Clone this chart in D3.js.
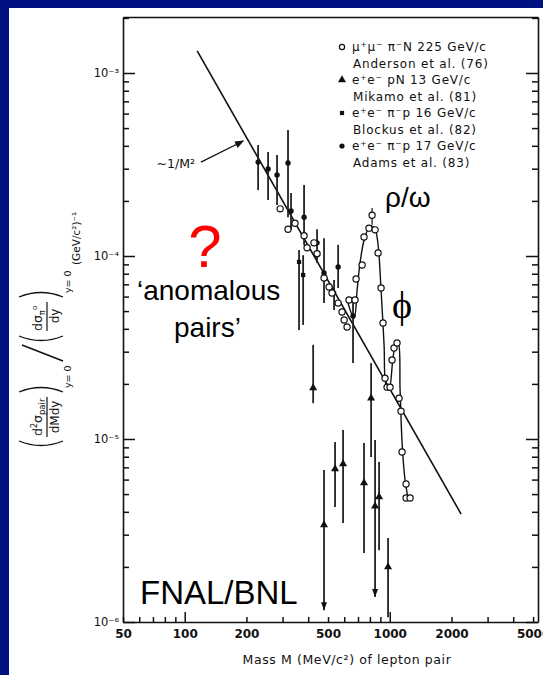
<!DOCTYPE html>
<html>
<head>
<meta charset="utf-8">
<script src="https://cdn.jsdelivr.net/npm/d3@7/dist/d3.min.js"></script>
<style>
  html, body { margin: 0; padding: 0; background: #001182; overflow: hidden; }
  svg { display: block; }
</style>
</head>
<body>
<svg id="chart" width="543" height="675"></svg>
<script>
// ---- ~1/M^2 reference line (end points) ----
const lineM = [115, 2228];
const lineV = [1.32e-3, 3.89e-6];

// ---- mu+mu- pi-N 225 GeV/c, Anderson et al. (76) : open circles ----
const andersonM = [292, 319, 345, 382, 395, 427, 442, 478, 506, 523, 560, 585, 599, 619, 633, 677, 685, 733, 749, 792, 820, 848, 877, 907, 927, 948, 970, 1003, 1026, 1049, 1085, 1110, 1135, 1148, 1201, 1201, 1256];
const andersonV = [1.81e-4, 1.40e-4, 1.51e-4, 1.29e-4, 1.11e-4, 1.18e-4, 1.03e-4, 7.58e-5, 6.77e-5, 6.28e-5, 5.53e-5, 4.94e-5, 4.47e-5, 4.09e-5, 5.75e-5, 5.75e-5, 7.49e-5, 8.93e-5, 1.27e-4, 1.42e-4, 1.67e-4, 1.39e-4, 1.04e-4, 6.69e-5, 4.30e-5, 2.15e-5, 1.92e-5, 1.92e-5, 2.70e-5, 3.14e-5, 3.35e-5, 1.67e-5, 1.42e-5, 8.49e-6, 5.68e-6, 4.76e-6, 4.76e-6];
// the one visible error bar (top of the rho/omega peak)
const andersonBarM = [820];
const andersonBarHi = [1.83e-4];
const andersonBarLo = [1.48e-4];

// ---- resonance curve through the rho/omega and phi region ----
const resFitM = [619, 670, 693, 716, 749, 784, 811, 848, 877, 907, 938, 959, 992, 1037, 1073, 1098, 1123, 1148, 1187, 1227];
const resFitV = [5.75e-5, 4.58e-5, 6.52e-5, 9.16e-5, 1.22e-4, 1.40e-4, 1.46e-4, 1.40e-4, 1.15e-4, 6.52e-5, 3.27e-5, 1.97e-5, 1.88e-5, 2.77e-5, 3.39e-5, 3.39e-5, 1.85e-5, 9.63e-6, 5.97e-6, 4.76e-6];

// ---- e+e- pN 13 GeV/c, Mikamo et al. (81) : filled triangles ----
const mikamoM  = [423, 478, 541, 592, 749, 811, 848, 887, 981];
const mikamoV  = [1.90e-5, 3.39e-6, 6.86e-6, 7.30e-6, 5.75e-6, 1.67e-5, 4.30e-6, 4.82e-6, 2.00e-6];
const mikamoHi = [3.27e-5, 6.77e-6, 9.63e-6, 1.12e-5, 9.50e-6, 2.60e-5, 9.87e-6, 7.48e-6, 2.88e-6];
const mikamoLo = [1.57e-5, 1.16e-6, 4.25e-6, 3.48e-6, 2.38e-6, 7.97e-6, 1.37e-6, 2.47e-6, 1.06e-6];
const mikamoLimit = [false, true, false, false, false, false, true, false, false];

// ---- e+e- pi-p 16 GeV/c, Blockus et al. (82) : filled squares ----
const blockusM  = [361, 378, 535];
const blockusV  = [9.28e-5, 7.87e-5, 6.28e-5];
const blockusHi = [1.08e-4, 1.01e-4, 7.39e-5];
const blockusLo = [3.94e-5, 4.20e-5, 5.07e-5];

// ---- e+e- pi-p 17 GeV/c, Adams et al. (83) : filled dots ----
const adamsM  = [228, 255, 282, 319, 330, 382, 442, 478, 560, 662];
const adamsV  = [3.26e-4, 2.99e-4, 2.77e-4, 3.22e-4, 1.76e-4, 1.63e-4, 1.18e-4, 8.08e-5, 8.71e-5, 4.70e-5];
const adamsHi = [4.04e-4, 3.70e-4, 3.56e-4, 4.88e-4, 2.21e-4, 2.44e-4, 1.40e-4, 1.25e-4, 1.15e-4, 5.53e-5];
const adamsLo = [2.29e-4, 2.02e-4, 1.90e-4, 1.63e-4, 1.39e-4, 1.15e-4, 9.16e-5, 5.53e-5, 6.69e-5, 2.60e-5];

// ---- axis ticks ----
const xTickValues = [50, 100, 200, 500, 1000, 2000, 5000];
const xTickLabels = ["50", "100", "200", "500", "1000", "2000", "5000"];
const xMajorTicks = [100, 1000];
const xMinorTicks = [50, 60, 70, 80, 90, 200, 300, 400, 500, 600, 700, 800, 900, 2000, 3000, 4000, 5000];
const yTickValues = [1e-6, 1e-5, 1e-4, 1e-3];
const yTickLabels = ["10\u207B\u2076", "10\u207B\u2075", "10\u207B\u2074", "10\u207B\u00B3"];

// ---- legend ----
const legendSymbols = ["circle", "triangle", "square", "dot"];
const legendLines = [
  ["\u03BC\u207A\u03BC\u207B  \u03C0\u207BN 225 GeV/c", "Anderson et al. (76)"],
  ["e\u207Ae\u207B  pN 13 GeV/c", "Mikamo et al. (81)"],
  ["e\u207Ae\u207B  \u03C0\u207Bp 16 GeV/c", "Blockus et al. (82)"],
  ["e\u207Ae\u207B  \u03C0\u207Bp 17 GeV/c", "Adams et al. (83)"]
];

// ================= drawing =================
const svg = d3.select("#chart");
const INK = "#111";
const SCAN_FONT = "'DejaVu Sans', sans-serif";
const SLIDE_FONT = "'Liberation Sans', Arial, sans-serif";

// slide background: blue frame, white page
svg.append("rect").attr("width", 543).attr("height", 675).attr("fill", "#001182");
svg.append("rect").attr("x", 9).attr("y", 8).attr("width", 534).attr("height", 667).attr("fill", "#fff");

const x = d3.scaleLog().domain([50, 5284]).range([123, 538]);
const y = d3.scaleLog().domain([1e-6, 2.023e-3]).range([622, 17]);
const [x0, x1] = x.range();
const [y0, y1] = y.range();

// minor ticks of the log y axis
const yMinor = [];
for (let e = -6; e <= -3; e++) {
  for (let k = 2; k <= 9; k++) {
    const v = k * Math.pow(10, e);
    if (v <= y.domain()[1]) yMinor.push(v);
  }
}

function styleAxis(g) {
  g.selectAll("path.domain").attr("stroke", INK).attr("stroke-width", 1.6);
  g.selectAll(".tick line").attr("stroke", INK).attr("stroke-width", 1.5);
}

// bottom axis: ticks pointing up into the plot
svg.append("g").attr("transform", `translate(0,${y0})`)
  .call(d3.axisTop(x).tickValues(xMinorTicks).tickSize(5).tickSizeOuter(0).tickFormat(""))
  .call(styleAxis);
svg.append("g").attr("transform", `translate(0,${y0})`)
  .call(d3.axisTop(x).tickValues(xMajorTicks).tickSize(10).tickSizeOuter(0).tickFormat(""))
  .call(g => g.select("path.domain").remove())
  .call(styleAxis);
// bottom tick labels
svg.append("g").attr("transform", `translate(0,${y0})`)
  .call(d3.axisBottom(x).tickValues(xTickValues).tickSize(0).tickPadding(7)
    .tickFormat((d, i) => xTickLabels[i]))
  .call(g => g.select("path.domain").remove())
  .call(g => g.selectAll("text").attr("font-family", SCAN_FONT).attr("font-size", 12)
    .attr("font-weight", "bold").attr("fill", INK));

// top edge
svg.append("g").attr("transform", `translate(0,${y1})`)
  .call(d3.axisBottom(x).tickValues([]).tickSizeOuter(0))
  .call(styleAxis);

// left axis: ticks pointing right
svg.append("g").attr("transform", `translate(${x0},0)`)
  .call(d3.axisRight(y).tickValues(yMinor).tickSize(6).tickSizeOuter(0).tickFormat(""))
  .call(styleAxis);
svg.append("g").attr("transform", `translate(${x0},0)`)
  .call(d3.axisRight(y).tickValues(yTickValues).tickSize(12).tickSizeOuter(0).tickFormat(""))
  .call(g => g.select("path.domain").remove())
  .call(styleAxis);
svg.append("g").attr("transform", `translate(${x0},0)`)
  .call(d3.axisLeft(y).tickValues(yTickValues).tickSize(0).tickPadding(4)
    .tickFormat((d, i) => yTickLabels[i]))
  .call(g => g.select("path.domain").remove())
  .call(g => g.selectAll("text").attr("font-family", SCAN_FONT).attr("font-size", 11.5)
    .attr("fill", INK));

// right axis: ticks pointing left
svg.append("g").attr("transform", `translate(${x1},0)`)
  .call(d3.axisLeft(y).tickValues(yMinor).tickSize(6).tickSizeOuter(0).tickFormat(""))
  .call(styleAxis);
svg.append("g").attr("transform", `translate(${x1},0)`)
  .call(d3.axisLeft(y).tickValues(yTickValues).tickSize(12).tickSizeOuter(0).tickFormat(""))
  .call(g => g.select("path.domain").remove())
  .call(styleAxis);

// x axis title
svg.append("text")
  .attr("x", 347).attr("y", 664).attr("text-anchor", "middle")
  .attr("font-family", SCAN_FONT).attr("font-size", 12.5).attr("fill", INK)
  .attr("letter-spacing", 0.6)
  .text("Mass M (MeV/c\u00B2) of lepton pair");

// ---- ~1/M^2 line ----
const plot = svg.append("g");
plot.append("path")
  .datum(d3.zip(lineM, lineV))
  .attr("d", d3.line().x(d => x(d[0])).y(d => y(d[1])))
  .attr("stroke", INK).attr("stroke-width", 1.6).attr("fill", "none");

// arrow pointing at the line, with its label
const arrowM = [120, 193];
const arrowV = [3.26e-4, 4.25e-4];
const defs = svg.append("defs");
defs.append("marker").attr("id", "head").attr("viewBox", "0 0 10 10")
  .attr("refX", 9).attr("refY", 5).attr("markerWidth", 7).attr("markerHeight", 7)
  .attr("orient", "auto")
  .append("path").attr("d", "M0,1 L10,5 L0,9 Z").attr("fill", INK);
plot.append("line")
  .attr("x1", x(arrowM[0])).attr("y1", y(arrowV[0]))
  .attr("x2", x(arrowM[1])).attr("y2", y(arrowV[1]))
  .attr("stroke", INK).attr("stroke-width", 1.3).attr("marker-end", "url(#head)");
plot.append("text")
  .attr("x", x(arrowM[0]) - 6).attr("y", y(arrowV[0]) + 6).attr("text-anchor", "end")
  .attr("font-family", SCAN_FONT).attr("font-size", 12.5).attr("fill", INK)
  .text("~1/M\u00B2");

// ---- resonance curve ----
plot.append("path")
  .datum(d3.zip(resFitM, resFitV))
  .attr("d", d3.line().x(d => x(d[0])).y(d => y(d[1])).curve(d3.curveCatmullRom.alpha(0.5)))
  .attr("stroke", INK).attr("stroke-width", 1.4).attr("fill", "none");

// ---- error bars ----
function errorBars(M, hi, lo, width) {
  plot.append("g").selectAll("line").data(M).join("line")
    .attr("x1", d => x(d)).attr("x2", d => x(d))
    .attr("y1", (d, i) => y(hi[i])).attr("y2", (d, i) => y(lo[i]))
    .attr("stroke", "#222").attr("stroke-width", width);
}
errorBars(adamsM, adamsHi, adamsLo, 1.8);
errorBars(blockusM, blockusHi, blockusLo, 1.8);
errorBars(mikamoM, mikamoHi, mikamoLo, 1.8);
errorBars(andersonBarM, andersonBarHi, andersonBarLo, 1.3);

// lower-limit arrows
plot.append("g").selectAll("path")
  .data(mikamoM.map((m, i) => ({ m, lo: mikamoLo[i], lim: mikamoLimit[i] })).filter(d => d.lim))
  .join("path")
  .attr("d", d => {
    const px = x(d.m), py = y(d.lo);
    return `M${px - 3},${py - 8} L${px + 3},${py - 8} L${px},${py} Z`;
  })
  .attr("fill", INK);

// ---- markers ----
const tri = d3.symbol(d3.symbolTriangle, 28)();
const sq = d3.symbol(d3.symbolSquare, 18)();

plot.append("g").selectAll("path").data(mikamoM).join("path")
  .attr("transform", (d, i) => `translate(${x(d)},${y(mikamoV[i])})`)
  .attr("d", tri).attr("fill", INK);

plot.append("g").selectAll("path").data(blockusM).join("path")
  .attr("transform", (d, i) => `translate(${x(d)},${y(blockusV[i])})`)
  .attr("d", sq).attr("fill", INK);

plot.append("g").selectAll("circle").data(adamsM).join("circle")
  .attr("cx", d => x(d)).attr("cy", (d, i) => y(adamsV[i]))
  .attr("r", 2.7).attr("fill", INK);

plot.append("g").selectAll("circle").data(andersonM).join("circle")
  .attr("cx", d => x(d)).attr("cy", (d, i) => y(andersonV[i]))
  .attr("r", 3.1).attr("fill", "#fff").attr("stroke", INK).attr("stroke-width", 1.2);

// ---- legend ----
const leg = svg.append("g").attr("font-family", SCAN_FONT).attr("font-size", 12).attr("fill", INK);
legendLines.forEach((lines, i) => {
  const cy = 47 + i * 33;
  const sym = legendSymbols[i];
  if (sym === "circle") {
    leg.append("circle").attr("cx", 342).attr("cy", cy).attr("r", 2.6)
      .attr("fill", "#fff").attr("stroke", INK).attr("stroke-width", 1.2);
  } else if (sym === "triangle") {
    leg.append("path").attr("transform", `translate(342,${cy})`).attr("d", tri).attr("fill", INK);
  } else if (sym === "square") {
    leg.append("path").attr("transform", `translate(342,${cy})`).attr("d", sq).attr("fill", INK);
  } else {
    leg.append("circle").attr("cx", 342).attr("cy", cy).attr("r", 2.6).attr("fill", INK);
  }
  leg.append("text").attr("x", 352).attr("y", cy + 4).attr("letter-spacing", 0.8).text(lines[0]);
  leg.append("text").attr("x", 353).attr("y", cy + 20.5).attr("letter-spacing", 0.8).text(lines[1]);
});

// ---- y axis title (rotated) ----
const yt = svg.append("g").attr("transform", "rotate(-90)")
  .attr("font-family", SCAN_FONT).attr("fill", INK);
function paren(xa, open) {
  const bulge = open ? -9 : 9;
  yt.append("path").attr("d", `M${xa},19 Q${xa + bulge},41 ${xa},63`)
    .attr("stroke", INK).attr("stroke-width", 1.3).attr("fill", "none");
}
// (d2 sigma_pair / dM dy)_{y=0}
paren(-441, true);
const n1 = yt.append("text").attr("x", -436).attr("y", 42).attr("font-size", 12.5);
n1.append("tspan").text("d");
n1.append("tspan").attr("dy", -5).attr("font-size", 8).text("2");
n1.append("tspan").attr("dy", 5).text("\u03C3");
n1.append("tspan").attr("dy", 3).attr("font-size", 8.5).text("pair");
yt.append("line").attr("x1", -437).attr("x2", -397).attr("y1", 47).attr("y2", 47)
  .attr("stroke", INK).attr("stroke-width", 1.2);
yt.append("text").attr("x", -417).attr("y", 59).attr("text-anchor", "middle").attr("font-size", 12)
  .text("dMdy");
paren(-392, false);
yt.append("text").attr("x", -388).attr("y", 71).attr("font-size", 9.5).text("y= 0");
// divided by
yt.append("line").attr("x1", -361).attr("y1", 63).attr("x2", -345).attr("y2", 22)
  .attr("stroke", INK).attr("stroke-width", 1.4);
// (d sigma_pi0 / dy)_{y=0}
paren(-336, true);
const n2 = yt.append("text").attr("x", -331).attr("y", 42).attr("font-size", 12.5);
n2.append("tspan").text("d\u03C3");
n2.append("tspan").attr("dy", 3).attr("font-size", 8.5).text("\u03C0");
n2.append("tspan").attr("dy", -8).attr("font-size", 7).text("o");
yt.append("line").attr("x1", -331).attr("x2", -302).attr("y1", 47).attr("y2", 47)
  .attr("stroke", INK).attr("stroke-width", 1.2);
yt.append("text").attr("x", -316).attr("y", 59).attr("text-anchor", "middle").attr("font-size", 12)
  .text("dy");
paren(-297, false);
yt.append("text").attr("x", -293).attr("y", 71).attr("font-size", 9.5).text("y= 0");
// units
yt.append("text").attr("x", -265).attr("y", 80).attr("font-size", 10.5).text("(GeV/c\u00B2)\u207B\u00B9");

// ---- slide annotations ----
const notes = svg.append("g").attr("font-family", SLIDE_FONT);
notes.append("text").attr("x", 205).attr("y", 267).attr("text-anchor", "middle")
  .attr("font-size", 60).attr("fill", "#f00").text("?");
notes.append("text").attr("x", 137).attr("y", 300).attr("font-size", 28).attr("fill", "#000")
  .text("\u2018anomalous");
notes.append("text").attr("x", 174).attr("y", 337).attr("font-size", 28).attr("fill", "#000")
  .text("pairs\u2019");
notes.append("text").attr("x", 385).attr("y", 207).attr("font-size", 28).attr("fill", "#000")
  .text("\u03C1/\u03C9");
notes.append("text").attr("x", 402).attr("y", 318).attr("text-anchor", "middle")
  .attr("font-family", "'Liberation Serif', serif")
  .attr("font-size", 38).attr("fill", "#000").text("\u03D5");
notes.append("text").attr("x", 140).attr("y", 604).attr("font-size", 33).attr("fill", "#000")
  .text("FNAL/BNL");
</script>
</body>
</html>
